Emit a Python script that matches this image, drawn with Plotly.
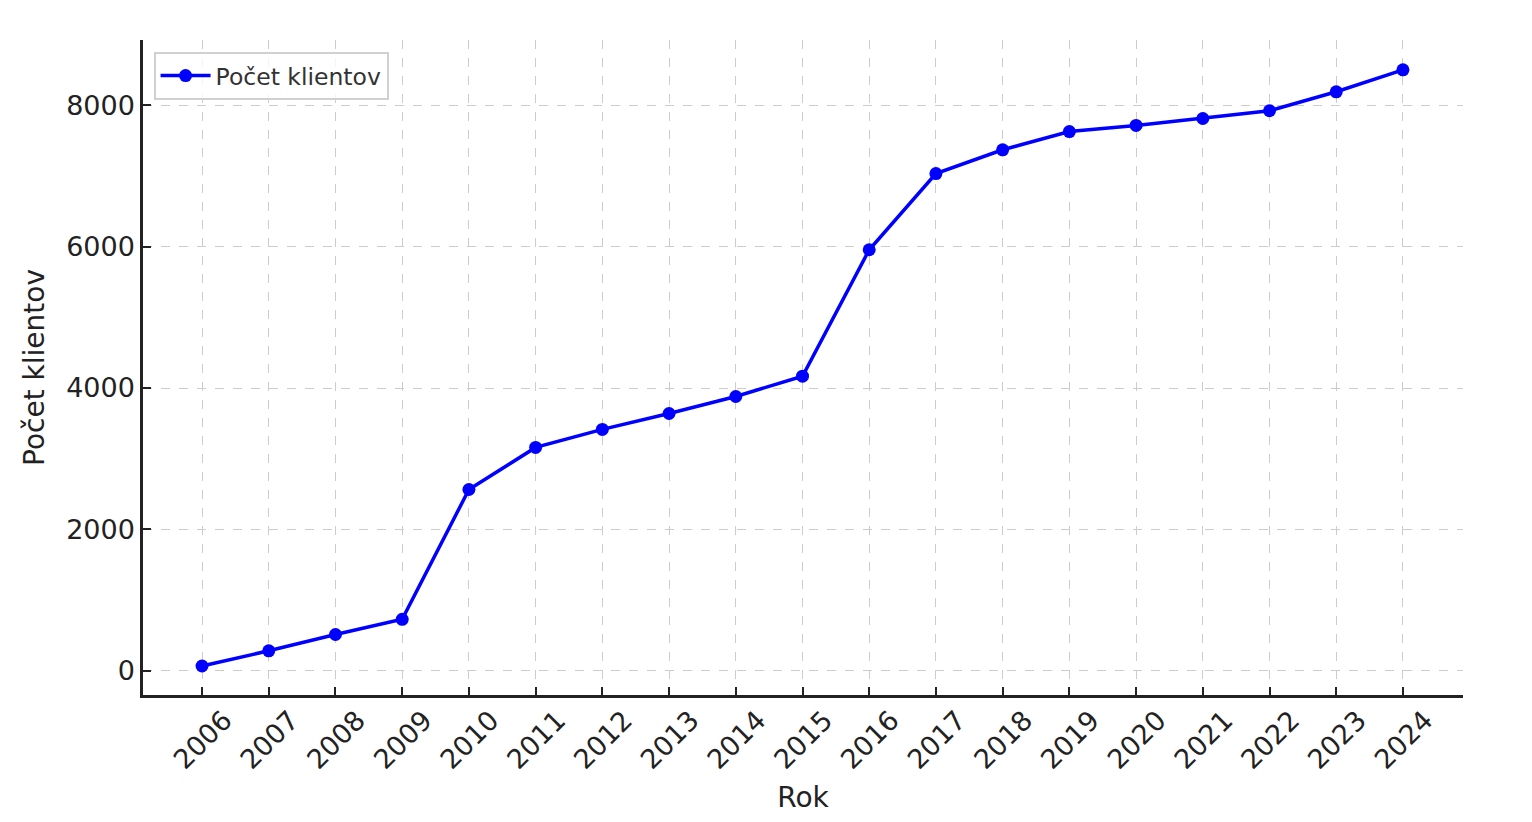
import plotly.graph_objects as go

years = list(range(2006, 2025))
clients = [70, 285, 515, 730, 2565, 3160, 3415, 3640, 3880, 4167,
           5955, 7032, 7368, 7626, 7712, 7810, 7920, 8188, 8498]
y_ticks = [0, 2000, 4000, 6000, 8000]
series_name = "Počet klientov"
x_title = "Rok"
y_title = "Počet klientov"

font_family = "DejaVu Sans"

fig = go.Figure()
fig.add_trace(go.Scatter(
    x=years, y=clients, mode="lines+markers", name=series_name,
    line=dict(color="#0000FF", width=3.5),
    marker=dict(color="#0000FF", size=13),
))

fig.update_layout(
    width=1532, height=822,
    margin=dict(l=135, r=77, t=32, b=135),
    paper_bgcolor="white", plot_bgcolor="white",
    font=dict(family=font_family, size=27, color="#222222"),
    showlegend=True,
    legend=dict(
        x=0.008, y=0.982, xanchor="left", yanchor="top",
        bgcolor="rgba(255,255,255,0.8)", bordercolor="#d0d0d0", borderwidth=2,
        font=dict(size=23.5, color="#333333"),
        itemwidth=50,
    ),
)
fig.update_xaxes(
    range=[2005.115, 2024.9],
    tickmode="array", tickvals=years, ticktext=[str(y) for y in years],
    tickangle=-45, ticks="inside", ticklen=8, tickwidth=2, tickcolor="#222222",
    showline=True, linecolor="#222222", linewidth=2.5,
    showgrid=True, gridcolor="#cccccc", griddash="dash", gridwidth=1.2,
    zeroline=False,
    title=dict(text=x_title, font=dict(size=28), standoff=14),
    ticklabelshift=22,
    ticklabelstandoff=-4,
)
fig.update_yaxes(
    range=[-340, 8920],
    tickmode="array", tickvals=y_ticks, ticktext=[str(v) for v in y_ticks],
    ticks="inside", ticklen=8, tickwidth=2, tickcolor="#222222",
    showline=True, linecolor="#222222", linewidth=2.5,
    showgrid=True, gridcolor="#cccccc", griddash="dash", gridwidth=1.2,
    zeroline=False,
    title=dict(text=y_title, font=dict(size=28), standoff=14),
)

fig.write_html("out.html")
